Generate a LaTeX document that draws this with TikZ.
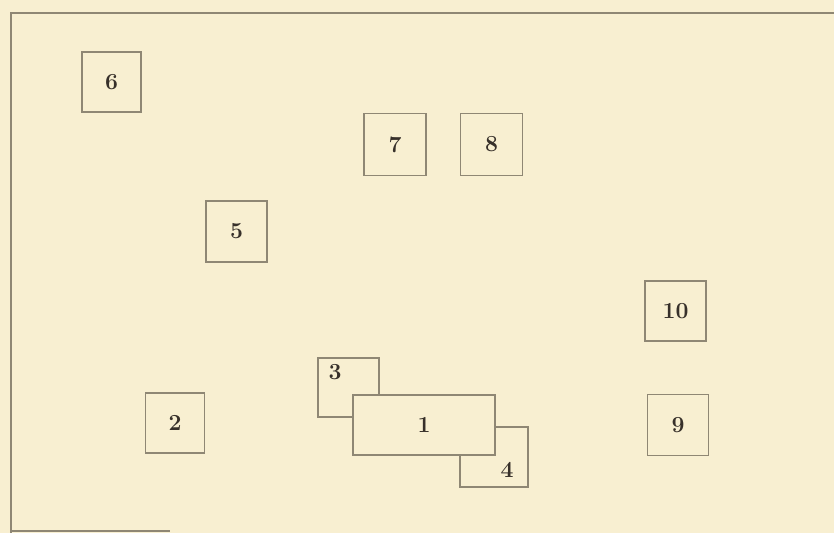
\documentclass[tikz,border=0pt]{standalone}
\definecolor{paper}{HTML}{F8EFD1}
\definecolor{ink}{HTML}{8F8774}
\definecolor{txt}{HTML}{37302A}
\tikzset{
  box/.style={draw=ink, line width=1.3pt, fill=paper, inner sep=0pt, font=\fontsize{23}{26}\selectfont\bfseries, text=txt},
  lbl/.style={font=\fontsize{23}{26}\selectfont\bfseries, text=txt},
}
\begin{document}
\begin{tikzpicture}[x=1pt,y=-1pt]
  \fill[paper] (0,0) rectangle (834,533);
  \useasboundingbox (0,0) rectangle (834,533);
  % frame
  \draw[ink, line width=1.4pt] (834,13) -- (11,13) -- (11,533);
  \draw[ink, line width=1.2pt] (11,531) -- (170,531);
  % boxes
  \node[box, minimum width=59pt, minimum height=60pt] (n6) at (111.5,82) {6};
  \node[box, minimum width=62pt, minimum height=62pt] (n7) at (395,144.5) {7};
  \node[box, minimum width=62pt, minimum height=62pt] (n8) at (491.5,144.5) {8};
  \node[box, minimum width=61pt, minimum height=61pt] (n5) at (236.5,231.5) {5};
  \node[box, minimum width=61pt, minimum height=60pt] (n10) at (675.5,311) {10};
  \node[box, minimum width=61pt, minimum height=61pt] (n9) at (678,425) {9};
  \node[box, minimum width=59pt, minimum height=60pt] (n2) at (175,423) {2};
  \node[box, minimum width=61pt, minimum height=59pt,
        label={[lbl,anchor=north west,inner sep=0pt,xshift=11pt,yshift=-7pt]north west:3}] (n3) at (348.5,387.5) {};
  \node[box, minimum width=68pt, minimum height=60pt,
        label={[lbl,anchor=south east,inner sep=0pt,xshift=-15pt,yshift=10pt]south east:4}] (n4) at (494,457) {};
  \node[box, minimum width=142pt, minimum height=60pt] (n1) at (424,425) {1};
\end{tikzpicture}
\end{document}
